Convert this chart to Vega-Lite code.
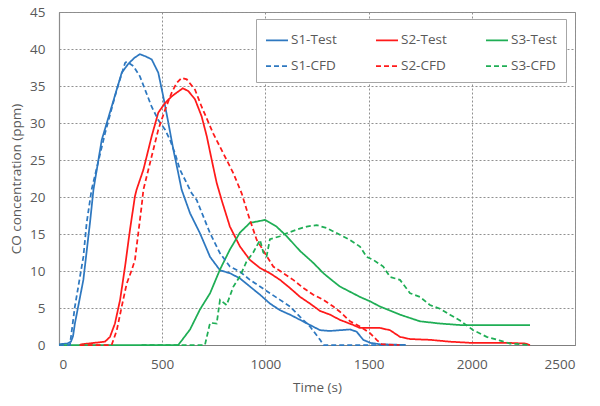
{
  "$schema": "https://vega.github.io/schema/vega-lite/v6.json",
  "autosize": "none",
  "width": 516,
  "height": 333,
  "padding": {"left": 59, "top": 12, "right": 25, "bottom": 61},
  "background": "white",
  "config": {
    "font": "Open Sans",
    "view": {"stroke": "#8c8c8c", "strokeWidth": 1},
    "axis": {
      "labelFont": "Open Sans", "labelFontSize": 13.5, "labelColor": "#595959",
      "titleFont": "Open Sans", "titleFontSize": 13.5, "titleColor": "#595959", "titleFontWeight": "normal",
      "domainColor": "#8c8c8c", "domainWidth": 1.2, "ticks": false
    },
    "legend": {
      "labelFont": "Open Sans", "labelFontSize": 13.5, "labelColor": "#595959"
    }
  },
  "data": {"values": [
    {"s":"S1-Test","t":0,"v":0.1},{"s":"S1-Test","t":40,"v":0.2},{"s":"S1-Test","t":58,"v":0.45},{"s":"S1-Test","t":68,"v":1.2},{"s":"S1-Test","t":77,"v":2.9},{"s":"S1-Test","t":118,"v":8.8},{"s":"S1-Test","t":150,"v":16.5},{"s":"S1-Test","t":167,"v":21},{"s":"S1-Test","t":207,"v":27.7},{"s":"S1-Test","t":255,"v":32.2},{"s":"S1-Test","t":304,"v":36.8},{"s":"S1-Test","t":336,"v":38.0},{"s":"S1-Test","t":365,"v":38.8},{"s":"S1-Test","t":392,"v":39.3},{"s":"S1-Test","t":420,"v":39.0},{"s":"S1-Test","t":449,"v":38.6},{"s":"S1-Test","t":481,"v":36.8},{"s":"S1-Test","t":505,"v":33.6},{"s":"S1-Test","t":530,"v":30},{"s":"S1-Test","t":554,"v":26.4},{"s":"S1-Test","t":578,"v":23.2},{"s":"S1-Test","t":594,"v":21},{"s":"S1-Test","t":635,"v":17.8},{"s":"S1-Test","t":683,"v":15.1},{"s":"S1-Test","t":732,"v":11.9},{"s":"S1-Test","t":780,"v":10.1},{"s":"S1-Test","t":828,"v":9.7},{"s":"S1-Test","t":877,"v":9.0},{"s":"S1-Test","t":925,"v":7.9},{"s":"S1-Test","t":974,"v":6.8},{"s":"S1-Test","t":1022,"v":5.6},{"s":"S1-Test","t":1071,"v":4.7},{"s":"S1-Test","t":1119,"v":4.1},{"s":"S1-Test","t":1168,"v":3.4},{"s":"S1-Test","t":1216,"v":2.7},{"s":"S1-Test","t":1265,"v":2.0},{"s":"S1-Test","t":1313,"v":1.9},{"s":"S1-Test","t":1361,"v":2.0},{"s":"S1-Test","t":1410,"v":2.1},{"s":"S1-Test","t":1442,"v":1.8},{"s":"S1-Test","t":1474,"v":0.7},{"s":"S1-Test","t":1507,"v":0.3},{"s":"S1-Test","t":1555,"v":0.1},{"s":"S1-Test","t":1680,"v":0},

    {"s":"S2-Test","t":100,"v":0},{"s":"S2-Test","t":110,"v":0.1},{"s":"S2-Test","t":223,"v":0.45},{"s":"S2-Test","t":247,"v":1.1},{"s":"S2-Test","t":271,"v":2.9},{"s":"S2-Test","t":296,"v":6.1},{"s":"S2-Test","t":320,"v":10.6},{"s":"S2-Test","t":344,"v":15.6},{"s":"S2-Test","t":368,"v":20.1},{"s":"S2-Test","t":376,"v":21},{"s":"S2-Test","t":409,"v":23.7},{"s":"S2-Test","t":449,"v":28.2},{"s":"S2-Test","t":481,"v":31.4},{"s":"S2-Test","t":514,"v":32.7},{"s":"S2-Test","t":546,"v":33.6},{"s":"S2-Test","t":570,"v":34.1},{"s":"S2-Test","t":600,"v":34.7},{"s":"S2-Test","t":627,"v":34.3},{"s":"S2-Test","t":659,"v":33.2},{"s":"S2-Test","t":691,"v":30.9},{"s":"S2-Test","t":716,"v":28.2},{"s":"S2-Test","t":740,"v":25.0},{"s":"S2-Test","t":764,"v":21.9},{"s":"S2-Test","t":790,"v":19.4},{"s":"S2-Test","t":828,"v":16.0},{"s":"S2-Test","t":877,"v":13.3},{"s":"S2-Test","t":925,"v":11.5},{"s":"S2-Test","t":974,"v":10.4},{"s":"S2-Test","t":1022,"v":9.7},{"s":"S2-Test","t":1071,"v":8.8},{"s":"S2-Test","t":1119,"v":7.7},{"s":"S2-Test","t":1168,"v":6.5},{"s":"S2-Test","t":1216,"v":5.6},{"s":"S2-Test","t":1265,"v":4.6},{"s":"S2-Test","t":1313,"v":4.1},{"s":"S2-Test","t":1361,"v":3.4},{"s":"S2-Test","t":1426,"v":2.7},{"s":"S2-Test","t":1458,"v":2.3},{"s":"S2-Test","t":1555,"v":2.3},{"s":"S2-Test","t":1604,"v":2.0},{"s":"S2-Test","t":1652,"v":1.1},{"s":"S2-Test","t":1701,"v":0.8},{"s":"S2-Test","t":1797,"v":0.7},{"s":"S2-Test","t":1894,"v":0.45},{"s":"S2-Test","t":1991,"v":0.3},{"s":"S2-Test","t":2169,"v":0.3},{"s":"S2-Test","t":2258,"v":0.2},{"s":"S2-Test","t":2282,"v":0},

    {"s":"S3-Test","t":0,"v":0},{"s":"S3-Test","t":578,"v":0},{"s":"S3-Test","t":635,"v":2.1},{"s":"S3-Test","t":683,"v":4.8},{"s":"S3-Test","t":732,"v":7.0},{"s":"S3-Test","t":780,"v":10.2},{"s":"S3-Test","t":828,"v":12.9},{"s":"S3-Test","t":877,"v":15.2},{"s":"S3-Test","t":925,"v":16.5},{"s":"S3-Test","t":998,"v":16.9},{"s":"S3-Test","t":1054,"v":16.0},{"s":"S3-Test","t":1103,"v":14.7},{"s":"S3-Test","t":1168,"v":12.7},{"s":"S3-Test","t":1232,"v":11.1},{"s":"S3-Test","t":1281,"v":9.7},{"s":"S3-Test","t":1329,"v":8.6},{"s":"S3-Test","t":1361,"v":7.9},{"s":"S3-Test","t":1458,"v":6.5},{"s":"S3-Test","t":1507,"v":5.9},{"s":"S3-Test","t":1555,"v":5.2},{"s":"S3-Test","t":1652,"v":4.1},{"s":"S3-Test","t":1749,"v":3.2},{"s":"S3-Test","t":1846,"v":2.9},{"s":"S3-Test","t":1943,"v":2.7},{"s":"S3-Test","t":2282,"v":2.7},

    {"s":"S1-CFD","t":0,"v":0},{"s":"S1-CFD","t":53,"v":0},{"s":"S1-CFD","t":58,"v":1.1},{"s":"S1-CFD","t":77,"v":5.2},{"s":"S1-CFD","t":118,"v":11.9},{"s":"S1-CFD","t":134,"v":16.5},{"s":"S1-CFD","t":158,"v":21},{"s":"S1-CFD","t":223,"v":28.6},{"s":"S1-CFD","t":280,"v":34.5},{"s":"S1-CFD","t":320,"v":38.1},{"s":"S1-CFD","t":328,"v":38.3},{"s":"S1-CFD","t":360,"v":37.7},{"s":"S1-CFD","t":392,"v":36.3},{"s":"S1-CFD","t":417,"v":34.5},{"s":"S1-CFD","t":449,"v":32.2},{"s":"S1-CFD","t":481,"v":30.4},{"s":"S1-CFD","t":514,"v":29.1},{"s":"S1-CFD","t":538,"v":27.7},{"s":"S1-CFD","t":562,"v":25.9},{"s":"S1-CFD","t":586,"v":23.7},{"s":"S1-CFD","t":627,"v":21.4},{"s":"S1-CFD","t":643,"v":20.5},{"s":"S1-CFD","t":667,"v":19.6},{"s":"S1-CFD","t":732,"v":15.1},{"s":"S1-CFD","t":780,"v":12.4},{"s":"S1-CFD","t":828,"v":10.6},{"s":"S1-CFD","t":877,"v":9.9},{"s":"S1-CFD","t":925,"v":8.8},{"s":"S1-CFD","t":974,"v":7.9},{"s":"S1-CFD","t":1022,"v":7.0},{"s":"S1-CFD","t":1071,"v":6.1},{"s":"S1-CFD","t":1119,"v":5.2},{"s":"S1-CFD","t":1168,"v":3.8},{"s":"S1-CFD","t":1216,"v":2.5},{"s":"S1-CFD","t":1265,"v":0.7},{"s":"S1-CFD","t":1281,"v":0},{"s":"S1-CFD","t":1650,"v":0},

    {"s":"S2-CFD","t":100,"v":0},{"s":"S2-CFD","t":255,"v":0},{"s":"S2-CFD","t":280,"v":2.0},{"s":"S2-CFD","t":304,"v":5.2},{"s":"S2-CFD","t":328,"v":8.3},{"s":"S2-CFD","t":352,"v":10.1},{"s":"S2-CFD","t":368,"v":11.5},{"s":"S2-CFD","t":384,"v":15.1},{"s":"S2-CFD","t":400,"v":18.7},{"s":"S2-CFD","t":409,"v":21},{"s":"S2-CFD","t":425,"v":22.8},{"s":"S2-CFD","t":449,"v":25.5},{"s":"S2-CFD","t":481,"v":29.1},{"s":"S2-CFD","t":514,"v":31.8},{"s":"S2-CFD","t":546,"v":34.1},{"s":"S2-CFD","t":570,"v":35.4},{"s":"S2-CFD","t":594,"v":36.1},{"s":"S2-CFD","t":619,"v":35.9},{"s":"S2-CFD","t":659,"v":34.5},{"s":"S2-CFD","t":691,"v":32.2},{"s":"S2-CFD","t":747,"v":28.6},{"s":"S2-CFD","t":796,"v":25.9},{"s":"S2-CFD","t":845,"v":23.2},{"s":"S2-CFD","t":885,"v":20.5},{"s":"S2-CFD","t":909,"v":18.3},{"s":"S2-CFD","t":925,"v":16.9},{"s":"S2-CFD","t":958,"v":14.2},{"s":"S2-CFD","t":998,"v":12.4},{"s":"S2-CFD","t":1038,"v":10.6},{"s":"S2-CFD","t":1087,"v":9.7},{"s":"S2-CFD","t":1135,"v":8.8},{"s":"S2-CFD","t":1184,"v":7.7},{"s":"S2-CFD","t":1232,"v":6.8},{"s":"S2-CFD","t":1281,"v":6.1},{"s":"S2-CFD","t":1329,"v":5.2},{"s":"S2-CFD","t":1361,"v":4.5},{"s":"S2-CFD","t":1410,"v":3.2},{"s":"S2-CFD","t":1458,"v":2.5},{"s":"S2-CFD","t":1507,"v":1.6},{"s":"S2-CFD","t":1539,"v":0.7},{"s":"S2-CFD","t":1563,"v":0.1},{"s":"S2-CFD","t":1650,"v":0},

    {"s":"S3-CFD","t":400,"v":0},{"s":"S3-CFD","t":707,"v":0},{"s":"S3-CFD","t":732,"v":3.0},{"s":"S3-CFD","t":764,"v":2.9},{"s":"S3-CFD","t":780,"v":6.1},{"s":"S3-CFD","t":812,"v":5.4},{"s":"S3-CFD","t":845,"v":7.9},{"s":"S3-CFD","t":877,"v":9.3},{"s":"S3-CFD","t":909,"v":11.3},{"s":"S3-CFD","t":941,"v":12.5},{"s":"S3-CFD","t":974,"v":14.2},{"s":"S3-CFD","t":990,"v":12.5},{"s":"S3-CFD","t":1006,"v":12.0},{"s":"S3-CFD","t":1022,"v":14.3},{"s":"S3-CFD","t":1071,"v":14.7},{"s":"S3-CFD","t":1103,"v":15.1},{"s":"S3-CFD","t":1152,"v":15.6},{"s":"S3-CFD","t":1200,"v":16.0},{"s":"S3-CFD","t":1248,"v":16.2},{"s":"S3-CFD","t":1297,"v":15.8},{"s":"S3-CFD","t":1361,"v":14.9},{"s":"S3-CFD","t":1410,"v":14.2},{"s":"S3-CFD","t":1458,"v":13.3},{"s":"S3-CFD","t":1491,"v":11.9},{"s":"S3-CFD","t":1523,"v":11.5},{"s":"S3-CFD","t":1571,"v":10.6},{"s":"S3-CFD","t":1604,"v":9.2},{"s":"S3-CFD","t":1652,"v":8.8},{"s":"S3-CFD","t":1701,"v":7.0},{"s":"S3-CFD","t":1749,"v":6.5},{"s":"S3-CFD","t":1797,"v":5.4},{"s":"S3-CFD","t":1846,"v":4.9},{"s":"S3-CFD","t":1894,"v":4.1},{"s":"S3-CFD","t":1943,"v":3.3},{"s":"S3-CFD","t":2007,"v":2.0},{"s":"S3-CFD","t":2072,"v":1.1},{"s":"S3-CFD","t":2137,"v":0.6},{"s":"S3-CFD","t":2185,"v":0.2},{"s":"S3-CFD","t":2234,"v":0.1},{"s":"S3-CFD","t":2280,"v":0}
  ]},
  "mark": {"type": "line", "strokeWidth": 1.75, "interpolate": "linear"},
  "encoding": {
    "x": {
      "field": "t", "type": "quantitative",
      "scale": {"domain": [0, 2500], "nice": false},
      "axis": {"values": [0, 500, 1000, 1500, 2000, 2500], "format": "d", "title": "Time (s)", "labelPadding": 12, "titlePadding": 10, "domainColor": "#7f7f7f", "grid": true, "gridColor": "#909090", "gridWidth": 1, "gridDash": [2, 2]}
    },
    "y": {
      "field": "v", "type": "quantitative",
      "scale": {"domain": [0, 45], "nice": false},
      "axis": {"values": [0, 5, 10, 15, 20, 25, 30, 35, 40, 45], "format": "d", "title": "CO concentration (ppm)", "labelPadding": 14, "titlePadding": 6, "grid": true, "gridColor": "#909090", "gridWidth": 1, "gridDash": [2, 2]}
    },
    "color": {
      "field": "s", "type": "nominal",
      "scale": {
        "domain": ["S1-Test", "S2-Test", "S3-Test", "S1-CFD", "S2-CFD", "S3-CFD"],
        "range": ["#2E78C0", "#FF1A1A", "#1FAE55", "#2E78C0", "#FF1A1A", "#1FAE55"]
      },
      "legend": {
        "title": null, "orient": "none", "legendX": 197, "legendY": 7,
        "direction": "horizontal", "columns": 3, "columnPadding": 35, "rowPadding": 7,
        "symbolType": "stroke", "symbolSize": 484, "symbolStrokeWidth": 1.75, "labelOffset": 2,
        "padding": 9, "strokeColor": "#a6a6a6", "fillColor": "white"
      }
    },
    "strokeDash": {
      "field": "s", "type": "nominal",
      "scale": {
        "domain": ["S1-Test", "S2-Test", "S3-Test", "S1-CFD", "S2-CFD", "S3-CFD"],
        "range": [[1, 0], [1, 0], [1, 0], [5, 3], [5, 3], [5, 3]]
      },
      "legend": {
        "title": null, "orient": "none", "legendX": 197, "legendY": 7,
        "direction": "horizontal", "columns": 3, "columnPadding": 35, "rowPadding": 7,
        "symbolType": "stroke", "symbolSize": 484, "symbolStrokeWidth": 1.75, "labelOffset": 2,
        "padding": 9, "strokeColor": "#a6a6a6", "fillColor": "white"
      }
    }
  }
}
